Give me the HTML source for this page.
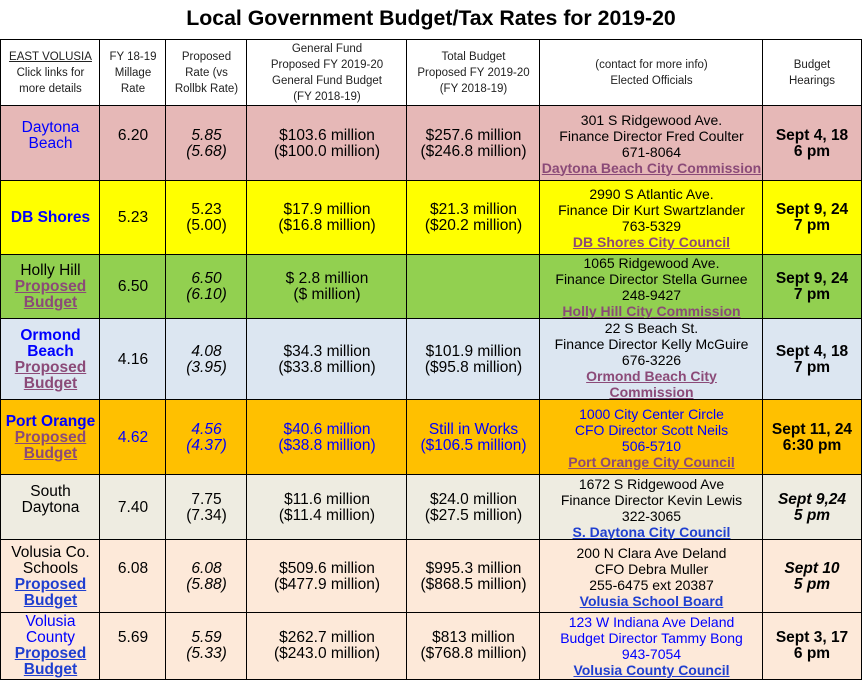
<!DOCTYPE html>
<html><head><meta charset="utf-8"><style>
body{margin:0;width:862px;height:686px;background:#fff;font-family:"Liberation Sans",Arial,sans-serif;position:relative;overflow:hidden}
h1{position:absolute;left:0;width:862px;top:6px;margin:0;text-align:center;font-size:21.3px;font-weight:bold}
.c{position:absolute;box-sizing:border-box;border:1.5px solid #000;display:flex;align-items:center;justify-content:center;text-align:center;font-size:15.5px;line-height:16px;margin:-0.75px 0 0 -0.75px}
.c>div{width:100%}
.c.k{font-size:14px}
.h{font-size:11.5px !important;line-height:16px;color:#222}
.p{color:#8b4a78;font-weight:bold;text-decoration:underline}
.b{color:#0000ff}
.lb{color:#1f3fd0;font-weight:bold;text-decoration:underline}
i{font-style:italic}
.bd{font-weight:bold}
</style></head><body>
<h1>Local Government Budget/Tax Rates for 2019-20</h1>
<div id="t"></div>
<script>
const xs=[1,100,166,247,407,540,763,861];
const ys=[40,106,181,255,319,400,475,540,613,679];
const bg=['#fff','#e6b8b7','#ffff00','#92d050','#dce6f1','#ffc000','#eeece1','#fde9d9','#fde9d9'];
const rows=[
['<u>EAST VOLUSIA</u><br>Click links for<br>more details','FY 18-19<br>Millage<br>Rate','Proposed<br>Rate (vs<br>Rollbk Rate)','General Fund<br>Proposed FY 2019-20<br>General Fund Budget<br>(FY 2018-19)','Total Budget<br>Proposed FY 2019-20<br>(FY 2018-19)','(contact for more info)<br>Elected Officials','Budget<br>Hearings'],
['<span class="b">Daytona<br>Beach</span><br><br>','6.20<br><br>','<i>5.85<br>(5.68)</i>','$103.6 million<br>($100.0 million)','$257.6 million<br>($246.8 million)','301 S Ridgewood Ave.<br>Finance Director Fred Coulter<br>671-8064<br><span class="p">Daytona Beach City Commission</span>','<span class="bd">Sept 4, 18<br>6 pm</span>'],
['<span class="b bd">DB Shores</span>','5.23','5.23<br>(5.00)','$17.9 million<br>($16.8 million)','$21.3 million<br>($20.2 million)','2990 S Atlantic Ave.<br>Finance Dir Kurt Swartzlander<br>763-5329<br><span class="p">DB Shores City Council</span>','<span class="bd">Sept 9, 24<br>7 pm</span>'],
['Holly Hill<br><span class="p">Proposed<br>Budget</span>','6.50','<i>6.50<br>(6.10)</i>','$ 2.8 million<br>($ million)','','1065 Ridgewood Ave.<br>Finance Director Stella Gurnee<br>248-9427<br><span class="p">Holly Hill City Commission</span>','<span class="bd">Sept 9, 24<br>7 pm</span>'],
['<span class="b bd">Ormond<br>Beach</span><br><span class="p">Proposed<br>Budget</span>','4.16','<i>4.08<br>(3.95)</i>','$34.3 million<br>($33.8 million)','$101.9 million<br>($95.8 million)','22 S Beach St.<br>Finance Director Kelly McGuire<br>676-3226<br><span class="p">Ormond Beach City<br>Commission</span>','<span class="bd">Sept 4, 18<br>7 pm</span>'],
['<span class="b bd">Port Orange</span><br><span class="p">Proposed<br>Budget</span>','<span class="b">4.62</span>','<i class="b">4.56<br>(4.37)</i>','<span class="b">$40.6 million<br>($38.8 million)</span>','<span class="b">Still in Works<br>($106.5 million)</span>','<span class="b">1000 City Center Circle<br>CFO Director Scott Neils<br>506-5710</span><br><span class="p">Port Orange City Council</span>','<span class="bd">Sept 11, 24<br>6:30 pm</span>'],
['South<br>Daytona<br><br>','7.40','7.75<br>(7.34)','$11.6 million<br>($11.4 million)','$24.0 million<br>($27.5 million)','1672 S Ridgewood Ave<br>Finance Director Kevin Lewis<br>322-3065<br><span class="lb">S. Daytona City Council</span>','<i class="bd">Sept 9,24<br>5 pm</i>'],
['Volusia Co.<br>Schools<br><span class="lb">Proposed<br>Budget</span>','6.08<br><br>','<i>6.08<br>(5.88)</i>','$509.6 million<br>($477.9 million)','$995.3 million<br>($868.5 million)','200 N Clara Ave Deland<br>CFO Debra Muller<br>255-6475 ext 20387<br><span class="lb">Volusia School Board</span>','<i class="bd">Sept 10<br>5 pm</i>'],
['<span class="b">Volusia<br>County</span><br><span class="lb">Proposed<br>Budget</span>','5.69<br><br>','<i>5.59<br>(5.33)</i>','$262.7 million<br>($243.0 million)','$813 million<br>($768.8 million)','<span class="b">123 W Indiana Ave Deland<br>Budget Director Tammy Bong<br>943-7054</span><br><span class="lb">Volusia County Council</span>','<span class="bd">Sept 3, 17<br>6 pm</span>']
];
const t=document.getElementById('t');
rows.forEach((r,ri)=>{r.forEach((txt,ci)=>{
 const d=document.createElement('div');
 d.className='c'+(ri==0?' h':'')+(ci==5?' k':'');
 
 
 d.style.left=xs[ci]+'px';d.style.top=ys[ri]+'px';
 d.style.width=(xs[ci+1]-xs[ci]+1.5)+'px';d.style.height=(ys[ri+1]-ys[ri]+1.5)+'px';
 d.style.background=bg[ri];
 d.innerHTML='<div>'+txt+'</div>';t.appendChild(d);
});});
</script>
</body></html>
